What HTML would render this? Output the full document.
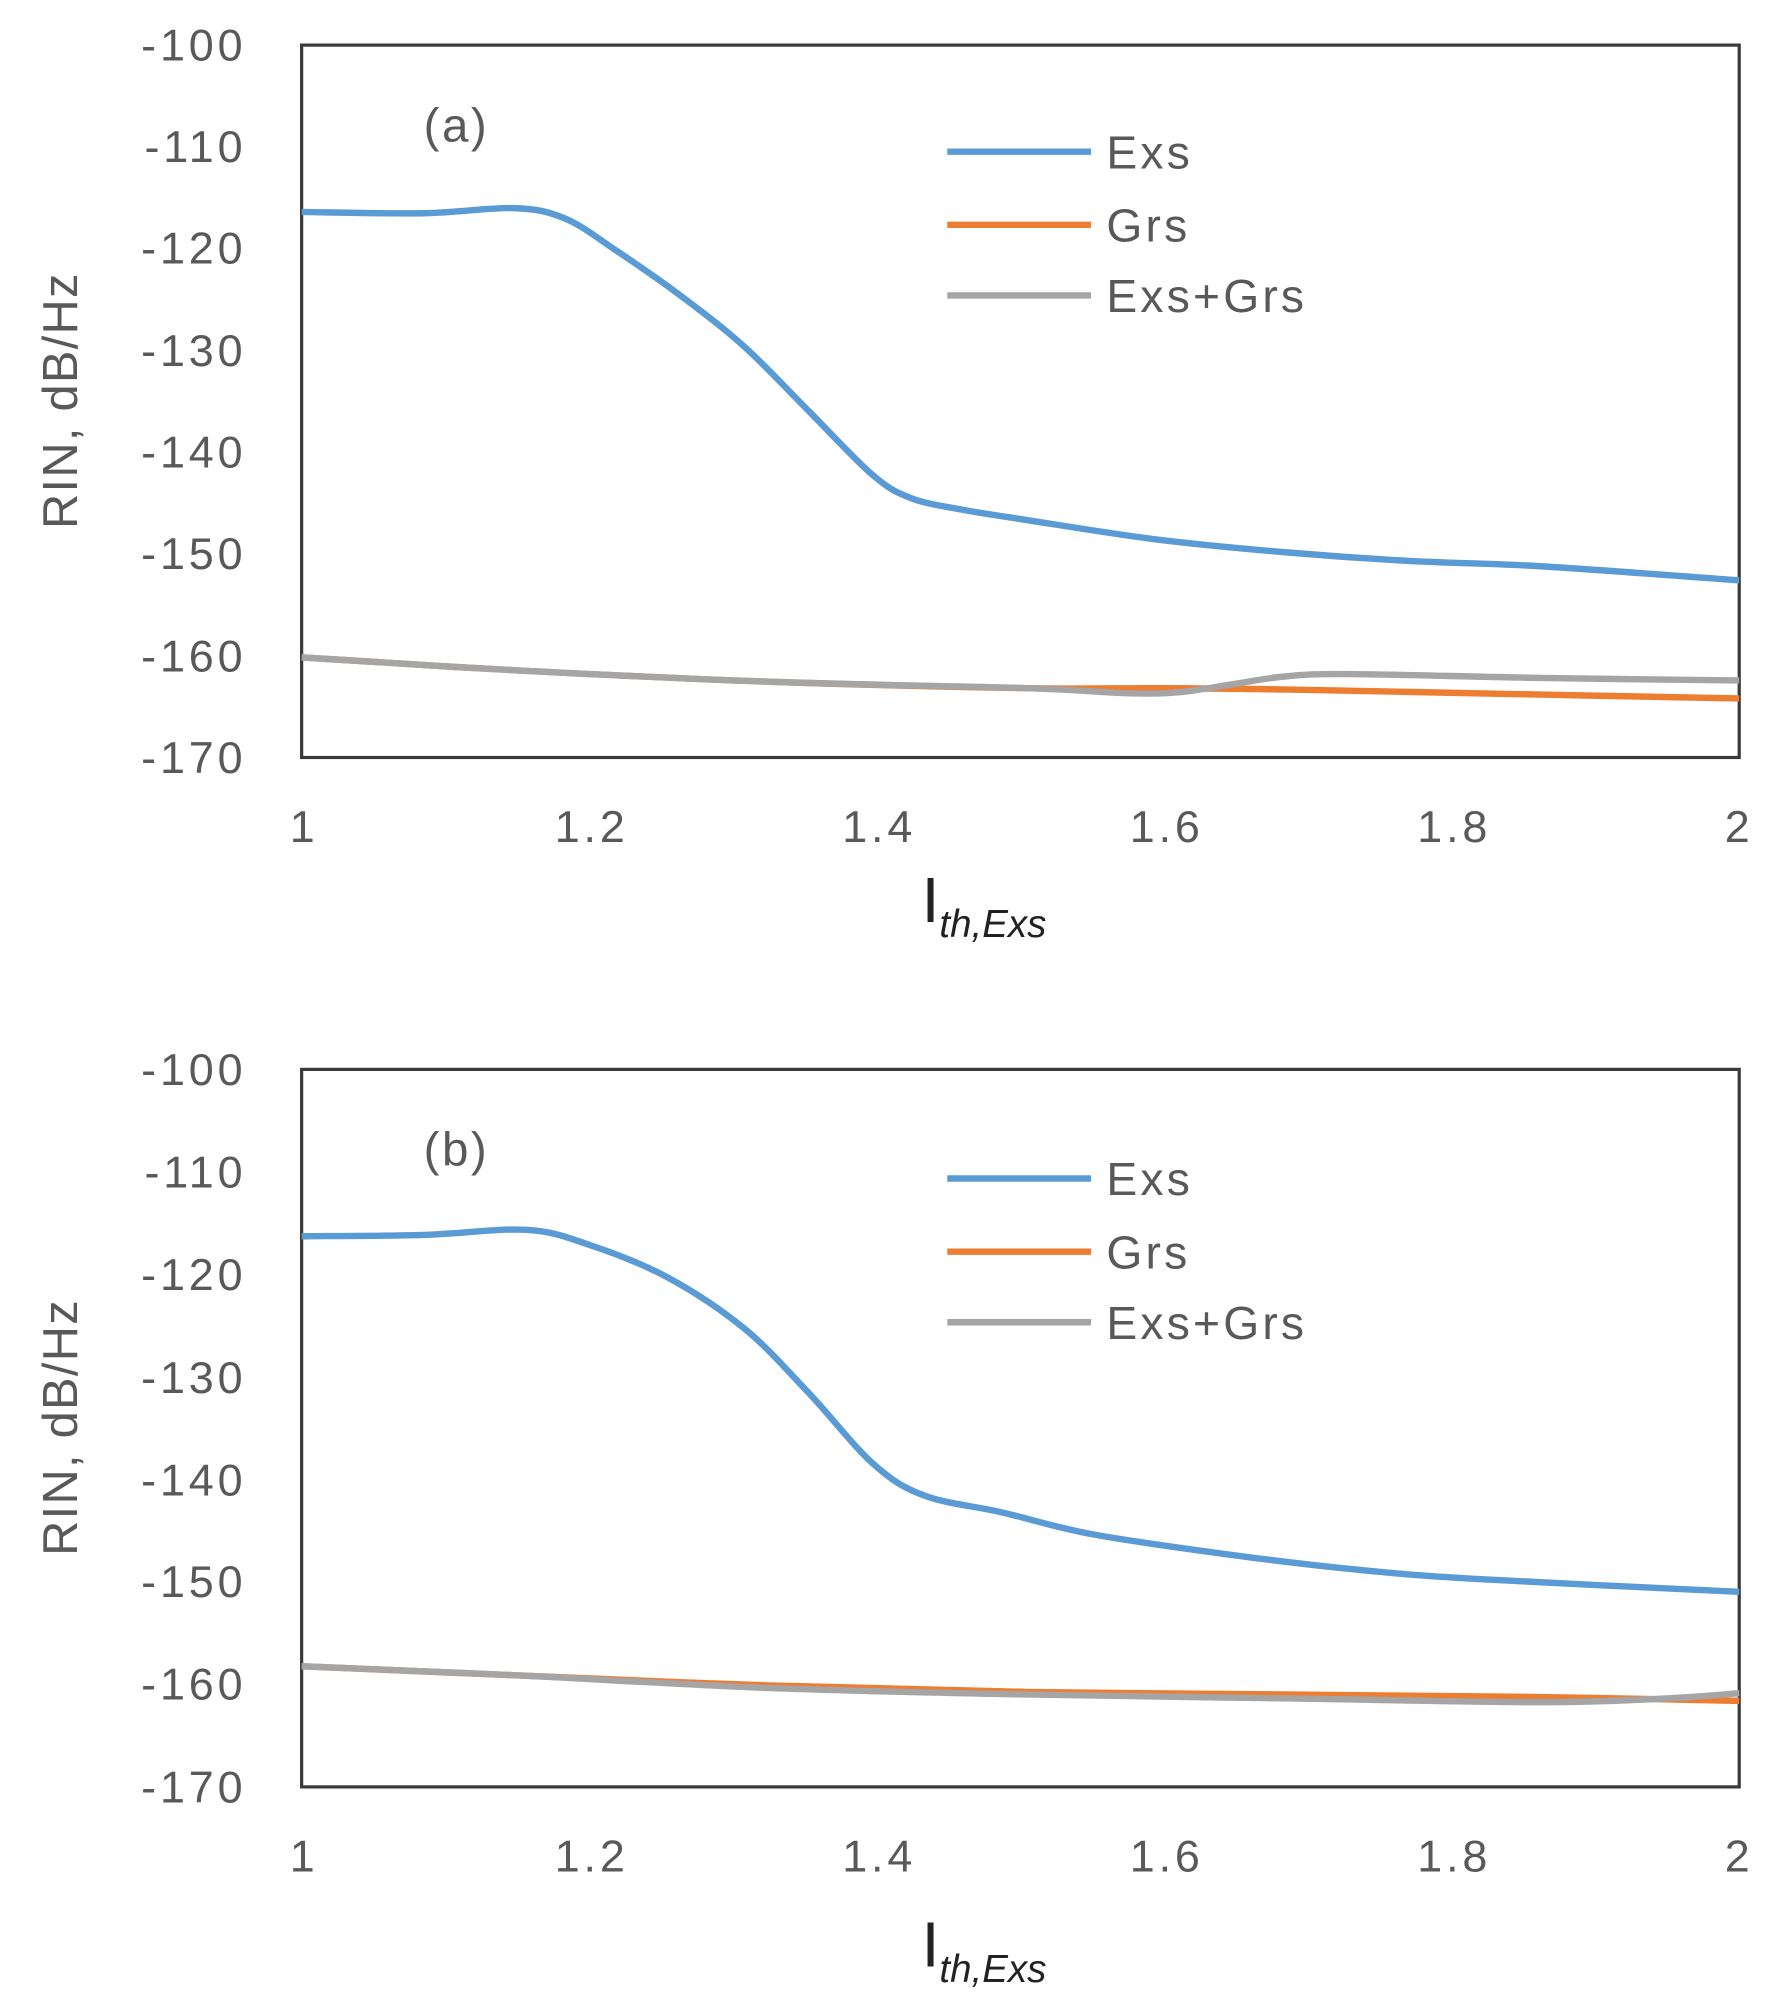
<!DOCTYPE html>
<html><head><meta charset="utf-8"><style>
html,body{margin:0;padding:0;background:#fff}
svg{display:block}
text{font-family:"Liberation Sans",sans-serif;fill:#595959}
</style></head><body>
<svg id="s" width="1779" height="2004" viewBox="0 0 1386 1561" xmlns="http://www.w3.org/2000/svg">
<rect width="1386" height="1561" fill="#fff"/>
<g>
<rect x="235" y="35" width="1120" height="555" fill="none" stroke="#3a3a3a" stroke-width="2.5"/>
<g font-size="35" text-anchor="end" letter-spacing="3">
<text x="192" y="47">-100</text><text x="192" y="126">-110</text><text x="192" y="205">-120</text>
<text x="192" y="285">-130</text><text x="192" y="364">-140</text><text x="192" y="443">-150</text>
<text x="192" y="523">-160</text><text x="192" y="602">-170</text>
</g>
<g font-size="35" text-anchor="middle" letter-spacing="3">
<text x="237" y="656">1</text><text x="461" y="656">1.2</text><text x="685" y="656">1.4</text>
<text x="909" y="656">1.6</text><text x="1133" y="656">1.8</text><text x="1355" y="656">2</text>
</g>
<text transform="translate(60,312) rotate(-90)" font-size="38" text-anchor="middle" letter-spacing="1">RIN, dB/Hz</text>
<text x="718" y="718" font-family="Liberation Serif,serif" font-size="50" style="fill:#222">I<tspan font-size="30" font-style="italic" dy="12">th,Exs</tspan></text>
<text x="330" y="110" font-size="37" letter-spacing="2">(a)</text>
<line x1="738" y1="118" x2="850" y2="118" stroke="#5b9bd5" stroke-width="5"/>
<line x1="738" y1="175" x2="850" y2="175" stroke="#ed7d31" stroke-width="5"/>
<line x1="738" y1="230" x2="850" y2="230" stroke="#a5a5a5" stroke-width="5"/>
<g font-size="36" letter-spacing="2.5"><text x="862" y="131">Exs</text><text x="862" y="188">Grs</text><text x="862" y="243">Exs+Grs</text></g>
<path class="c" data-p="235,512 400,522 600,531 800,536 900,536 1000,537 1200,541 1355,544" stroke="#ed7d31"/>
<path class="c" data-p="235,512 400,522 600,531 800,536 880,540 920,539 960,533 1000,527 1050,525 1200,528 1355,530" stroke="#a5a5a5"/>
<path class="c" data-p="235,165 330,166 400,162 440,170 480,195 530,230 580,270 630,320 680,370 710,388 750,397 800,405 900,420 1000,430 1100,437 1200,441 1355,452" stroke="#5b9bd5"/>
</g>
<g>
<rect x="235" y="833" width="1120" height="559" fill="none" stroke="#3a3a3a" stroke-width="2.5"/>
<g font-size="35" text-anchor="end" letter-spacing="3">
<text x="192" y="845">-100</text><text x="192" y="925">-110</text><text x="192" y="1005">-120</text>
<text x="192" y="1085">-130</text><text x="192" y="1165">-140</text><text x="192" y="1244">-150</text>
<text x="192" y="1324">-160</text><text x="192" y="1404">-170</text>
</g>
<g font-size="35" text-anchor="middle" letter-spacing="3">
<text x="237" y="1458">1</text><text x="461" y="1458">1.2</text><text x="685" y="1458">1.4</text>
<text x="909" y="1458">1.6</text><text x="1133" y="1458">1.8</text><text x="1355" y="1458">2</text>
</g>
<text transform="translate(60,1112) rotate(-90)" font-size="38" text-anchor="middle" letter-spacing="1">RIN, dB/Hz</text>
<text x="718" y="1532" font-family="Liberation Serif,serif" font-size="50" style="fill:#222">I<tspan font-size="30" font-style="italic" dy="12">th,Exs</tspan></text>
<text x="330" y="908" font-size="37" letter-spacing="2">(b)</text>
<line x1="738" y1="918" x2="850" y2="918" stroke="#5b9bd5" stroke-width="5"/>
<line x1="738" y1="975" x2="850" y2="975" stroke="#ed7d31" stroke-width="5"/>
<line x1="738" y1="1030" x2="850" y2="1030" stroke="#a5a5a5" stroke-width="5"/>
<g font-size="36" letter-spacing="2.5"><text x="862" y="931">Exs</text><text x="862" y="988">Grs</text><text x="862" y="1043">Exs+Grs</text></g>
<path class="c" data-p="235,1298 400,1305 600,1313 800,1318 1000,1320 1200,1322 1355,1325" stroke="#ed7d31"/>
<path class="c" data-p="235,1298 400,1305 600,1315 800,1320 1000,1323 1200,1326 1300,1323 1355,1319" stroke="#a5a5a5"/>
<path class="c" data-p="235,963 330,962 410,958 460,970 520,995 580,1035 630,1085 680,1140 720,1165 780,1178 850,1195 950,1210 1050,1222 1150,1230 1355,1240" stroke="#5b9bd5"/>
</g>
</svg>
<script>
document.querySelectorAll('path.c').forEach(function(el){
  var p=el.getAttribute('data-p').split(' ').map(function(s){return s.split(',').map(Number);});
  var d='M'+p[0][0]+','+p[0][1];
  for(var i=0;i<p.length-1;i++){
    var p0=p[i-1]||p[i],p1=p[i],p2=p[i+1],p3=p[i+2]||p2;
    var c1x=p1[0]+(p2[0]-p0[0])/6,c1y=p1[1]+(p2[1]-p0[1])/6;
    var c2x=p2[0]-(p3[0]-p1[0])/6,c2y=p2[1]-(p3[1]-p1[1])/6;
    d+=' C'+c1x+','+c1y+' '+c2x+','+c2y+' '+p2[0]+','+p2[1];
  }
  el.setAttribute('d',d);el.setAttribute('fill','none');el.setAttribute('stroke-width','5');
});
</script>
</body></html>
